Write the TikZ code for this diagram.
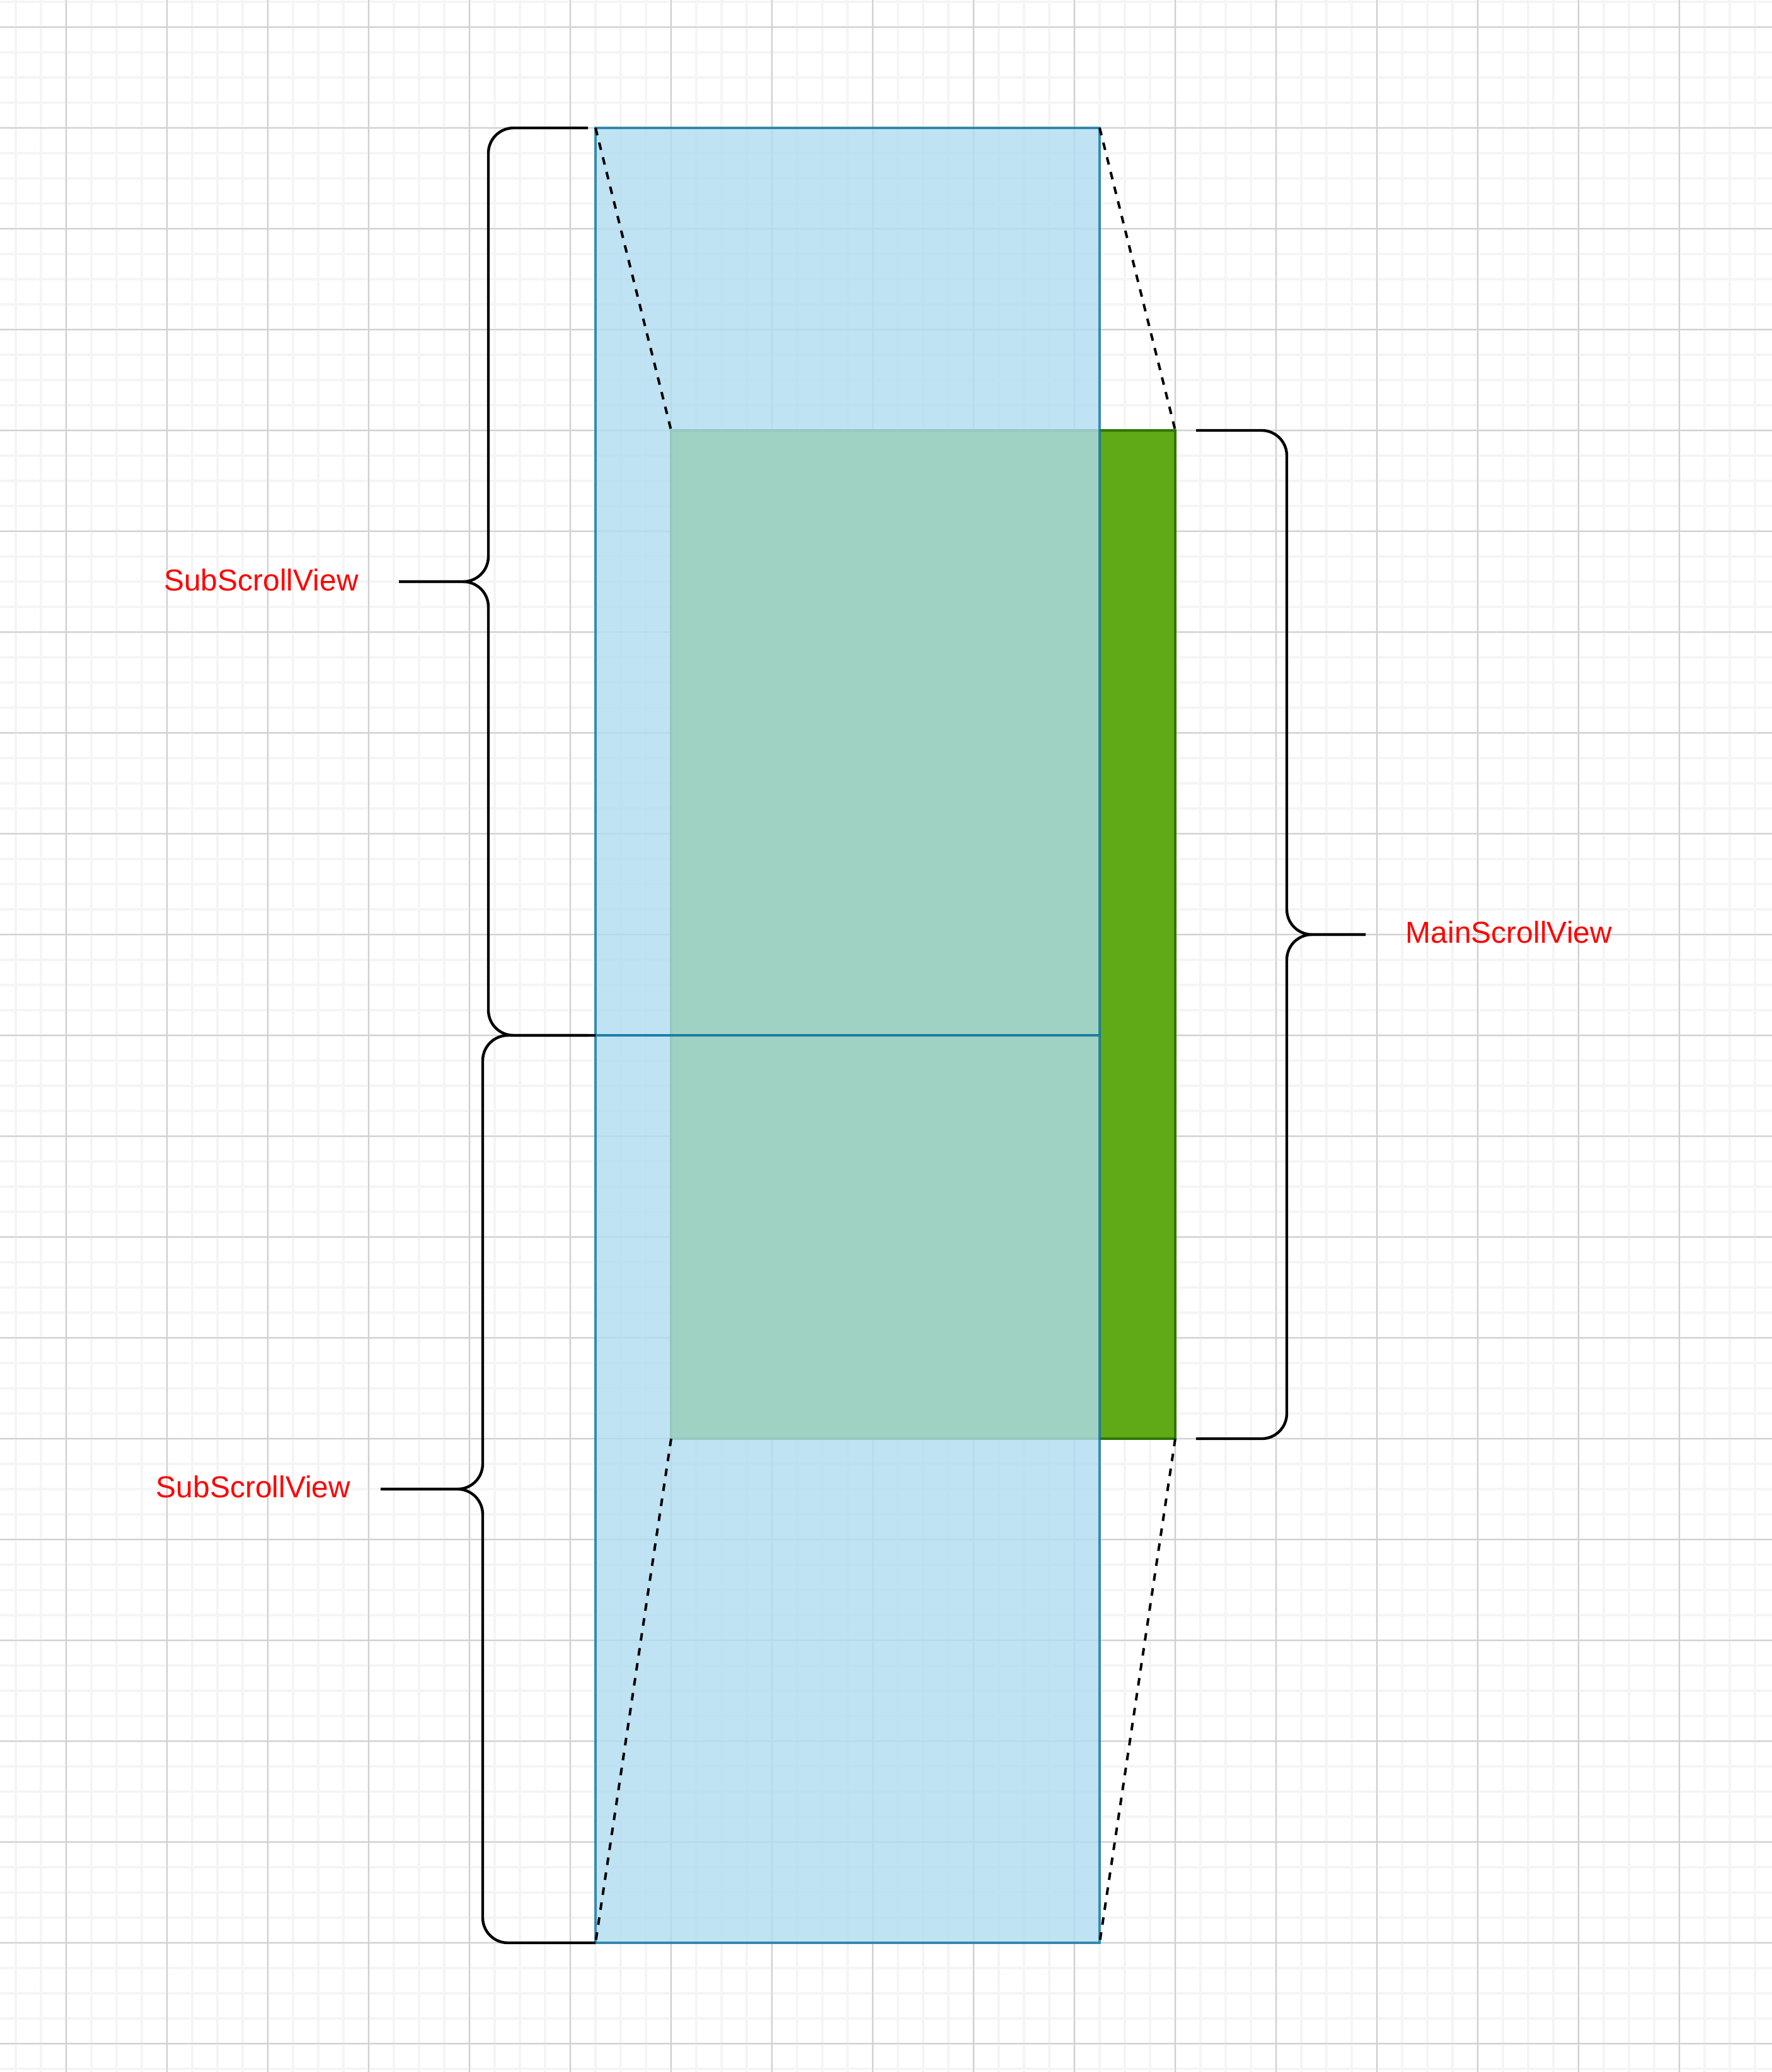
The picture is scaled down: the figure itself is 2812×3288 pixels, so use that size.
\documentclass[tikz,border=0pt]{standalone}
\usepackage{fontspec}
\setmainfont{Liberation Sans}
\definecolor{blueFill}{HTML}{B1DDF0}
\definecolor{blueLine}{HTML}{10739E}
\definecolor{greenFill}{HTML}{60A917}
\definecolor{greenLine}{HTML}{2D7600}
\definecolor{gridMinor}{HTML}{F5F5F5}
\definecolor{gridMajor}{HTML}{D0D0D0}
\definecolor{labelRed}{HTML}{FF0000}
\begin{document}
\begin{tikzpicture}[x=0.25pt,y=-0.25pt,
  minorline/.style={draw=gridMinor,line width=0.875pt},
  majorline/.style={draw=gridMajor,line width=0.5pt},
  bluebox/.style={rectangle,draw=blueLine,fill=blueFill,opacity=0.8,line width=1pt,inner sep=0pt,outer sep=0pt,minimum width=200pt,minimum height=360pt},
  greenbox/.style={rectangle,draw=greenLine,fill=greenFill,line width=1pt,inner sep=0pt,outer sep=0pt,minimum width=200pt,minimum height=400pt},
  guide/.style={draw=black,line width=1pt,dash pattern=on 3pt off 3pt},
  bracestyle/.style={draw=black,line width=1.1pt,rounded corners=10pt},
  lbltext/.style={text=labelRed,font=\fontsize{12pt}{14pt}\selectfont,inner sep=0pt,anchor=base}
]
\useasboundingbox (0,0) rectangle (2812,3288);
\fill[white] (0,0) rectangle (2812,3288);
% grid
\foreach \gx in {25,65,...,2805} \draw[minorline] (\gx,0) -- (\gx,3288);
\foreach \gy in {3,43,...,3283} \draw[minorline] (0,\gy) -- (2812,\gy);
\foreach \gx in {105,265,...,2745} \draw[majorline] (\gx,0) -- (\gx,3288);
\foreach \gy in {43,203,...,3243} \draw[majorline] (0,\gy) -- (2812,\gy);
% boxes
\node[greenbox] (mainView) at (1465,1483) {};
\node[bluebox] (subTop) at (1345,923) {};
\node[bluebox] (subBot) at (1345,2363) {};
% dashed guides
\draw[guide] (subTop.north west) -- (mainView.north west);
\draw[guide] (subTop.north east) -- (mainView.north east);
\draw[guide] (mainView.south west) -- (subBot.south west);
\draw[guide] (mainView.south east) -- (subBot.south east);
% braces
\draw[bracestyle] (933,203) -- (775,203) -- (775,923) -- (633,923);
\draw[bracestyle] (633,923) -- (775,923) -- (775,1643) -- (933,1643);
\draw[bracestyle] (945,1643) -- (766,1643) -- (766,2363) -- (604,2363);
\draw[bracestyle] (604,2363) -- (766,2363) -- (766,3083) -- (945,3083);
\draw[bracestyle] (1898,683) -- (2042,683) -- (2042,1483) -- (2167,1483);
\draw[bracestyle] (2167,1483) -- (2042,1483) -- (2042,2283) -- (1898,2283);
% labels
\node[lbltext] (subTopLabel) at (414.5,937) {SubScrollView};
\node[lbltext] (subBotLabel) at (402,2376) {SubScrollView};
\node[lbltext] (mainLabel) at (2394.5,1496) {MainScrollView};
\end{tikzpicture}
\end{document}
